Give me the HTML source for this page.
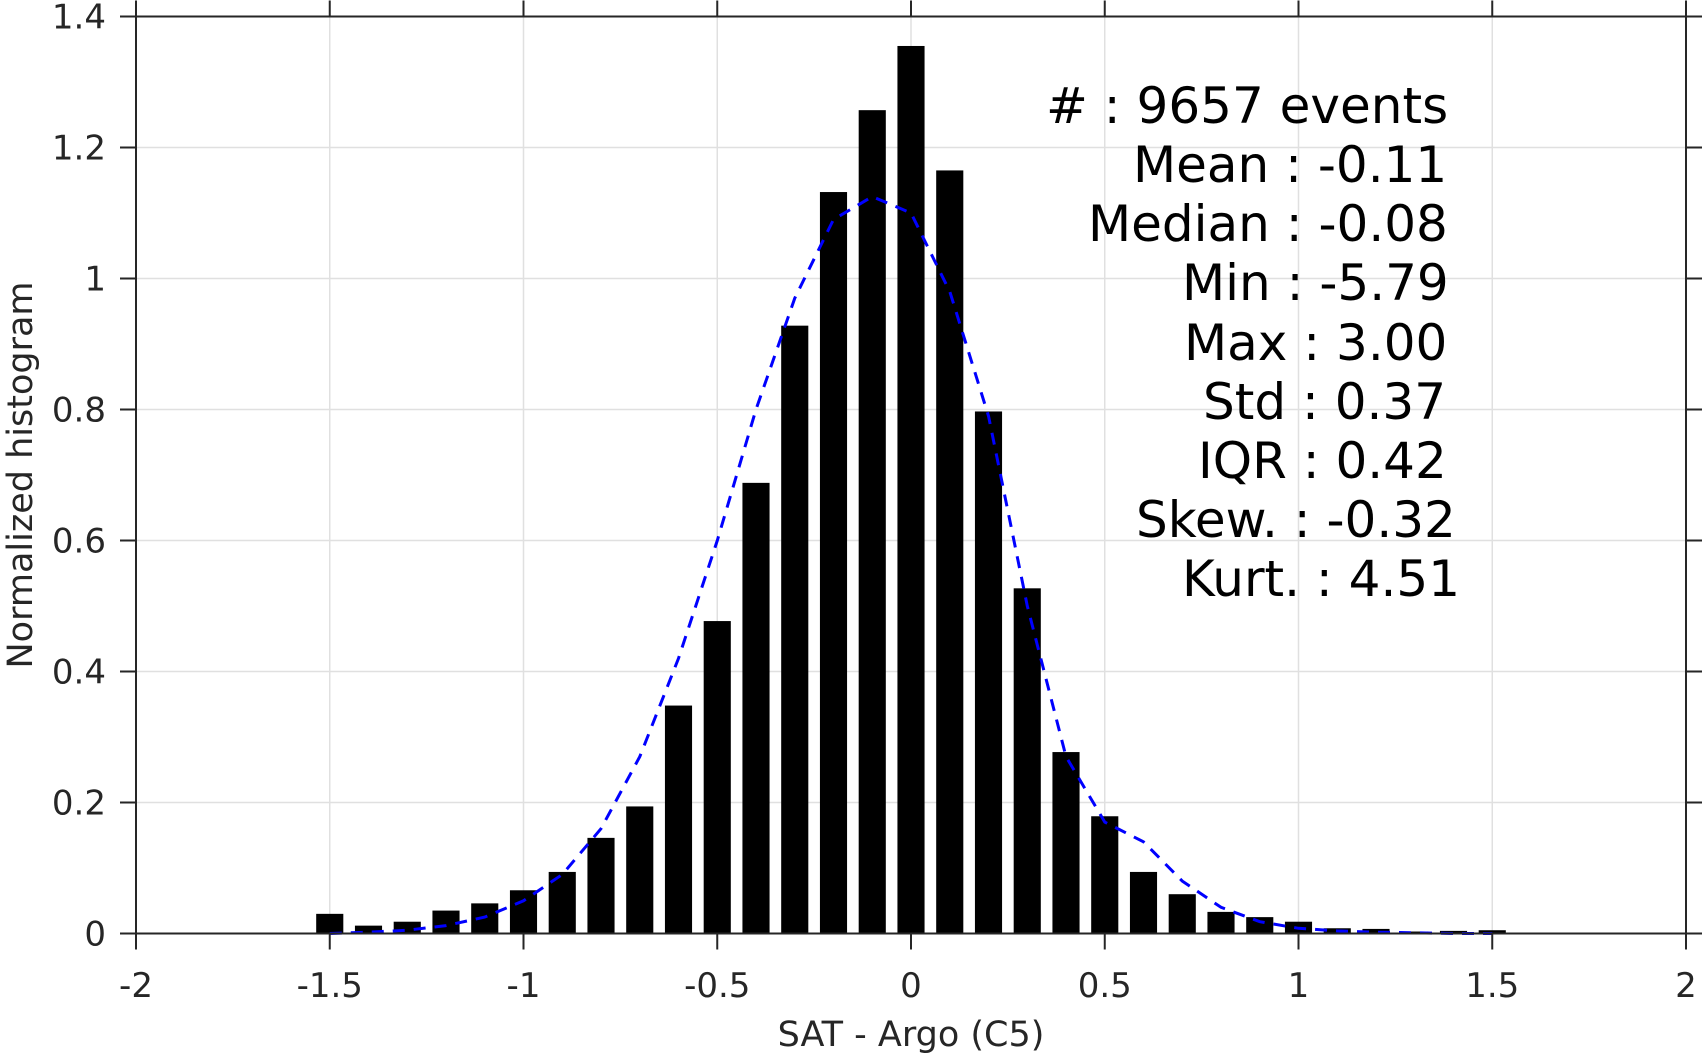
<!DOCTYPE html>
<html><head><meta charset="utf-8"><style>
html,body{margin:0;padding:0;background:#fff;}
svg{display:block;font-family:"DejaVu Sans","Liberation Sans",sans-serif;}
</style></head><body>
<svg id="chart" width="1703" height="1056" viewBox="0 0 1703 1056" xmlns="http://www.w3.org/2000/svg">
<g id="grid"></g>
<g id="bars"></g>
<path id="fit" fill="none" stroke="#0000ff" stroke-width="3" stroke-dasharray="12,9"></path>
<g id="axes"></g>
<text transform="translate(32,475) rotate(-90)" text-anchor="middle" font-size="35" fill="#262626">Normalized histogram</text>
<text x="911" y="1046" text-anchor="middle" font-size="35" fill="#262626">SAT - Argo (C5)</text>
<g font-size="50" fill="#000" xml:space="preserve">
<text x="1046" y="123">#  : 9657 events</text>
<text x="1133" y="182">Mean : -0.11</text>
<text x="1088" y="241">Median : -0.08</text>
<text x="1182" y="300">Min : -5.79</text>
<text x="1184" y="360">Max : 3.00</text>
<text x="1203" y="419">Std : 0.37</text>
<text x="1198" y="478">IQR : 0.42</text>
<text x="1136" y="537">Skew. : -0.32</text>
<text x="1182" y="596">Kurt. : 4.51</text>
</g>
</svg>
<script>
const binCenters=[-1.5,-1.4,-1.3,-1.2,-1.1,-1.0,-0.9,-0.8,-0.7,-0.6,-0.5,-0.4,-0.3,-0.2,-0.1,0,0.1,0.2,0.3,0.4,0.5,0.6,0.7,0.8,0.9,1.0,1.1,1.2,1.3,1.4,1.5];
const binValues=[0.03,0.012,0.018,0.035,0.046,0.066,0.094,0.146,0.194,0.348,0.477,0.688,0.928,1.132,1.257,1.355,1.165,0.797,0.527,0.277,0.179,0.094,0.06,0.033,0.025,0.018,0.008,0.007,0.003,0.004,0.005];
const fitX=[-1.5,-1.4,-1.3,-1.2,-1.1,-1.0,-0.9,-0.8,-0.7,-0.6,-0.5,-0.4,-0.3,-0.2,-0.1,0,0.1,0.2,0.3,0.4,0.5,0.6,0.7,0.8,0.9,1.0,1.1,1.2,1.3,1.4,1.5];
const fitY=[0,0.002,0.005,0.012,0.025,0.05,0.09,0.16,0.27,0.42,0.6,0.8,0.97,1.09,1.125,1.1,0.98,0.79,0.5,0.27,0.17,0.14,0.08,0.04,0.018,0.008,0.004,0.002,0.001,0,0];
const xTicks=[-2,-1.5,-1,-0.5,0,0.5,1,1.5,2];
const xTickLabels=["-2","-1.5","-1","-0.5","0","0.5","1","1.5","2"];
const yTicks=[0,0.2,0.4,0.6,0.8,1,1.2,1.4];
const yTickLabels=["0","0.2","0.4","0.6","0.8","1","1.2","1.4"];
const L=136,R=1686,T=16.5,B=933.5;
const xs=v=>L+(v+2)/4*(R-L);
const ys=v=>B-v/1.4*(B-T);
const NS="http://www.w3.org/2000/svg";
function mk(tag,parent){const e=document.createElementNS(NS,tag);parent.appendChild(e);return e;}
const grid=document.getElementById('grid'),axes=document.getElementById('axes'),bars=document.getElementById('bars');
xTicks.forEach((t,i)=>{
  const g=mk('line',grid);
  
  
  g.setAttribute('x1',xs(t));g.setAttribute('x2',xs(t));g.setAttribute('y1',T);g.setAttribute('y2',B);g.setAttribute('stroke','#e0e0e0');g.setAttribute('stroke-width','1.5');
  [[B,B+16],[T,T-16]].forEach(p=>{const k=mk('line',axes);
    
    
    k.setAttribute('x1',xs(t));k.setAttribute('x2',xs(t));k.setAttribute('y1',p[0]);k.setAttribute('y2',p[1]);k.setAttribute('stroke','#262626');k.setAttribute('stroke-width','2');});
  const tx=mk('text',axes);
  
  
  tx.setAttribute('x',xs(t));tx.setAttribute('y',997);tx.setAttribute('text-anchor','middle');tx.setAttribute('font-size','34');tx.setAttribute('fill','#262626');tx.textContent=xTickLabels[i];
});
yTicks.forEach((t,i)=>{
  const g=mk('line',grid);
  
  
  g.setAttribute('x1',L);g.setAttribute('x2',R);g.setAttribute('y1',ys(t));g.setAttribute('y2',ys(t));g.setAttribute('stroke','#e0e0e0');g.setAttribute('stroke-width','1.5');
  [[L,L-16],[R,R+16]].forEach(p=>{const k=mk('line',axes);
    
    
    k.setAttribute('x1',p[0]);k.setAttribute('x2',p[1]);k.setAttribute('y1',ys(t));k.setAttribute('y2',ys(t));k.setAttribute('stroke','#262626');k.setAttribute('stroke-width','2');});
  const tx=mk('text',axes);
  
  
  tx.setAttribute('x',106);tx.setAttribute('y',ys(t)+12);tx.setAttribute('text-anchor','end');tx.setAttribute('font-size','34');tx.setAttribute('fill','#262626');tx.textContent=yTickLabels[i];
});
const box=mk('rect',axes);


box.setAttribute('x',L);box.setAttribute('y',T);box.setAttribute('width',R-L);box.setAttribute('height',B-T);box.setAttribute('fill','none');box.setAttribute('stroke','#262626');box.setAttribute('stroke-width','2');
const bw=(xs(0.1)-xs(0))*0.7;
binCenters.forEach((c,i)=>{
  const r=mk('rect',bars);
  
  
  const y=ys(binValues[i]);
  r.setAttribute('x',xs(c)-bw/2);r.setAttribute('y',y);r.setAttribute('width',bw);r.setAttribute('height',Math.max(B-y,0));r.setAttribute('fill','#000');
});
document.getElementById('fit').setAttribute('d',fitX.map((x,i)=>(i?'L':'M')+xs(x).toFixed(1)+','+ys(fitY[i]).toFixed(1)).join(' '));
</script>
</body></html>
